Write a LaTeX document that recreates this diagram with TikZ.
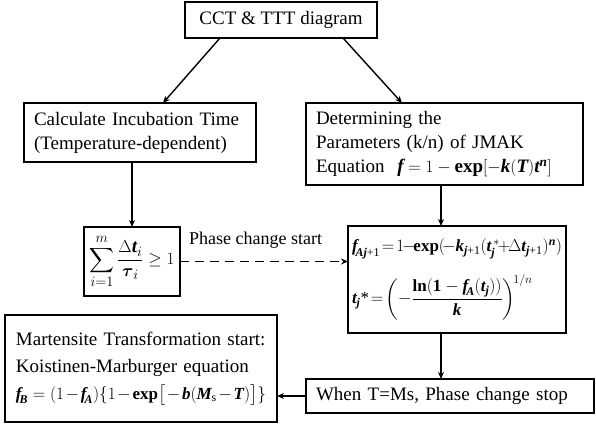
\documentclass[tikz,border=0pt]{standalone}
\usepackage{amsmath}
\usepackage{fontspec}
\setmainfont{Liberation Serif}
\usetikzlibrary{arrows.meta}
\newcommand{\bi}[1]{\text{\bfseries\itshape #1}}
\newcommand{\brm}[1]{\text{\bfseries #1}}
\begin{document}
\begin{tikzpicture}[x=1pt,y=-1pt,
  font=\fontsize{19}{24}\selectfont,
  box/.style={draw, line width=1.6pt, inner ysep=0pt, outer sep=0pt},
  lbox/.style={box, align=left, inner xsep=10pt},
  arr/.style={line width=1.4pt, -{Stealth[length=7pt,width=6pt]}},
  darr/.style={arr, dash pattern=on 9pt off 6pt}]
\useasboundingbox (0,0) rectangle (596,423);
\fill[white] (0,0) rectangle (596,423);

\node[box, minimum width=192pt, minimum height=36pt] (cct) at (281,20) {CCT \& TTT diagram};

\node[lbox, text width=212pt, minimum height=59pt] (inc) at (140,132.5)
  {Calculate Incubation Time\\(Temperature-dependent)};

\node[lbox, text width=257pt, minimum height=82pt] (jmak) at (444.5,144)
  {Determining the\\Parameters (k/n) of JMAK\\Equation \ $\bi{f}=1-\brm{exp}[-\bi{k}(\bi{T})\bi{t}^{\bi{n}}]$};

\node[box, minimum width=96pt, minimum height=69pt, inner xsep=2pt] (sum) at (132,261.5)
  {$\displaystyle\sum_{i=1}^{m}\frac{\Delta\bi{t}_{i}}{\boldsymbol{\tau}_{i}}\ge 1$};

\node[box, align=left, inner xsep=4pt, text width=210pt, minimum height=107pt,
  font=\fontsize{17}{22}\selectfont] (form) at (457,279.5)
  {$\bi{f}_{\!\bi{Aj}\text{+1}}\!=\!1\!-\!\brm{exp}(\!-\bi{k}_{\bi{j}\text{+1}}(\bi{t}_{\bi{j}}^{\,*}\!+\!\Delta\bi{t}_{\bi{j}\text{+1}})^{\bi{n}})$\\[14pt]
   $\bi{t}_{\bi{j}}\text{*}\!=\!\left(-\dfrac{\brm{ln}(\brm{1}-\bi{f}_{\!\bi{A}}(\bi{t}_{\bi{j}}))}{\bi{k}}\right)^{\!1/n}$};

\node[lbox, inner xsep=11pt, text width=250pt, minimum height=107pt,
  font=\fontsize{19}{27}\selectfont] (mart) at (141,368.5)
  {Martensite Transformation start:\\Koistinen-Marburger equation\\
   {\fontsize{17}{22}\selectfont$\bi{f}_{\!\bi{B}}=(1-\bi{f}_{\!\bi{A}})\{1-\brm{exp}\big[-\bi{b}(\bi{M}_{\text{s}}-\bi{T})\big]\}$}};

\node[lbox, text width=268pt, minimum height=34pt] (when) at (450,396)
  {When T=Ms, Phase change stop};

\draw[arr] ([xshift=-61pt]cct.south) -- ([xshift=139pt]inc.north west);
\draw[arr] ([xshift=62pt]cct.south) -- ([xshift=96pt]jmak.north west);
\draw[arr] (inc.south -| sum.north) -- (sum.north);
\draw[arr] ([xshift=-3.5pt]jmak.south) -- ([xshift=-3.5pt]jmak.south |- form.north);
\draw[darr] (sum.east) -- (sum.east -| form.west)
  node[pos=0.45, above=9pt, font=\fontsize{18}{22}\selectfont] (lbl) {Phase change start};
\draw[arr] ([xshift=-16pt]form.south) -- ([xshift=-16pt]form.south |- when.north);
\draw[arr] (when.west) -- (when.west -| mart.east);
\end{tikzpicture}
\end{document}
